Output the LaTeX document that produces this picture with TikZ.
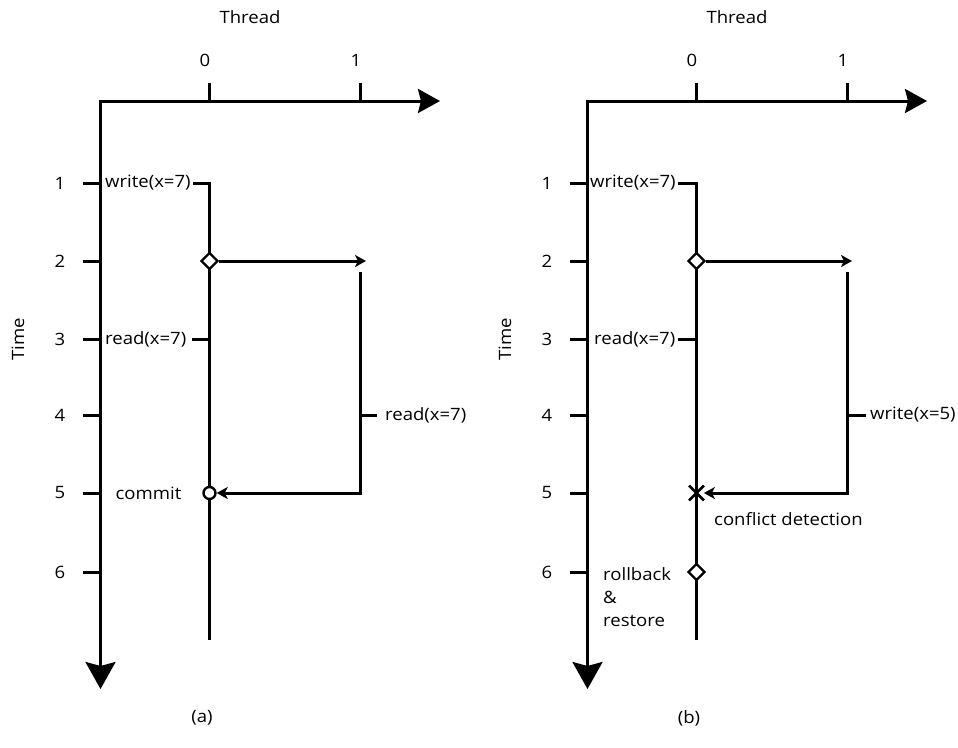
\documentclass[tikz,border=0pt]{standalone}
\usepackage{fontspec}
\setmainfont{Open Sans}[FakeStretch=1.09]
\usetikzlibrary{arrows.meta,shapes.geometric,shapes.misc}
\newcommand{\panelaxes}[2]{%
  \coordinate (#1o) at (100.5,101);
  \coordinate (#1xe) at (440,101);
  \coordinate (#1ye) at (100.5,689);
  \draw[ln,{Stealth[length=22pt,width=24pt,inset=3pt]}-{Stealth[length=27pt,width=30pt,inset=4pt]}] (#1xe) -- (#1o) -- (#1ye);
  \node (#1thr) at (250,17) {Thread};
  \node[rotate=90] (#1time) at (18,339) {Time};
  \coordinate (#1t0) at (209.5,101); \coordinate (#1t0u) at (209.5,83);
  \coordinate (#1t1) at (360,101);   \coordinate (#1t1u) at (360,83);
  \draw[ln] (#1t0u) -- (#1t0);
  \draw[ln] (#1t1u) -- (#1t1);
  \node (#1n0) at (205,60) {0};
  \node (#1n1) at (356,60) {1};
  \foreach \i/\y in {1/183,2/261,3/339,4/415,5/493,6/572}{
    \coordinate (#1k\i) at (100.5,\y);
    \coordinate (#1kl\i) at (83,\y);
    \draw[ln] (#1kl\i) -- (#1k\i);
    \node (#1l\i) at (60,\y) {\i};
  }
  \node (#1cap) at (202,718) {#2};
}
\begin{document}
\begin{tikzpicture}[x=1pt,y=-1pt,
  every node/.style={font=\fontsize{17}{23}\selectfont, inner sep=0pt},
  ln/.style={line width=3pt, line join=miter},
  msg/.style={ln,-{Stealth[length=11pt,width=12pt,inset=3pt]}},
  lbl/.style={inner xsep=2pt},
  dia/.style={diamond,draw,fill=white,line width=2.4pt,minimum size=17pt},
  cmt/.style={circle,draw,fill=white,line width=2.4pt,minimum size=12pt},
  xmark/.style={cross out,draw,line width=2.8pt,minimum size=12pt}
]
\useasboundingbox (0,0) rectangle (958,747);

% ---------------- panel (a)
\begin{scope}
\panelaxes{a}{(a)}
\node[lbl,anchor=west] (aw) at (103,183) {write(x=7)};
\coordinate (a0a) at (209.5,183);
\coordinate (a0b) at (209.5,640);
\draw[ln] (aw.east) -- (a0a) -- (a0b);
\node[lbl,anchor=west] (ar) at (103,339) {read(x=7)};
\coordinate (a0rl) at (192,339);
\coordinate (a0r) at (209.5,339);
\draw[ln] (a0rl) -- (a0r);
\node[dia] (ad) at (209.5,261) {};
\coordinate (a1t) at (366,261);
\draw[msg] (ad) -- (a1t);
\coordinate (a1s) at (360,272);
\coordinate (a1c) at (360,493);
\node[cmt] (acm) at (209.5,493) {};
\draw[msg] (a1s) -- (a1c) -- (acm);
\coordinate (a1r) at (360,415);
\coordinate (a1re) at (377,415);
\draw[ln] (a1r) -- (a1re);
\node[anchor=west] (ar1) at (385,415) {read(x=7)};
\node (acommit) at (148.5,493) {commit};
\end{scope}

% ---------------- panel (b)
\begin{scope}[xshift=487pt]
\panelaxes{b}{(b)}
\node[lbl,anchor=west] (bw) at (101,183) {write(x=7)};
\coordinate (b0a) at (209.5,183);
\coordinate (b0b) at (209.5,640);
\draw[ln] (bw.east) -- (b0a) -- (b0b);
\node[lbl,anchor=west] (br) at (105,339) {read(x=7)};
\coordinate (b0r) at (209.5,339);
\draw[ln] (br.east) -- (b0r);
\node[dia] (bd) at (209.5,261) {};
\coordinate (b1t) at (365,261);
\draw[msg] (bd) -- (b1t);
\coordinate (b1s) at (360,272);
\coordinate (b1c) at (360,493);
\node[xmark] (bx) at (209.5,493) {};
\draw[msg] (b1s) -- (b1c) -- (bx);
\coordinate (b1w) at (360,415);
\coordinate (b1we) at (379,415);
\draw[ln] (b1w) -- (b1we);
\node[anchor=west] (bw1) at (383,415) {write(x=5)};
\node[anchor=west] (bcd) at (227,519) {conflict detection};
\node[dia] (bd2) at (209.5,572) {};
\node[align=left,anchor=north west] (brb) at (116,567) {rollback\\\&\\restore};
\end{scope}
\end{tikzpicture}
\end{document}
